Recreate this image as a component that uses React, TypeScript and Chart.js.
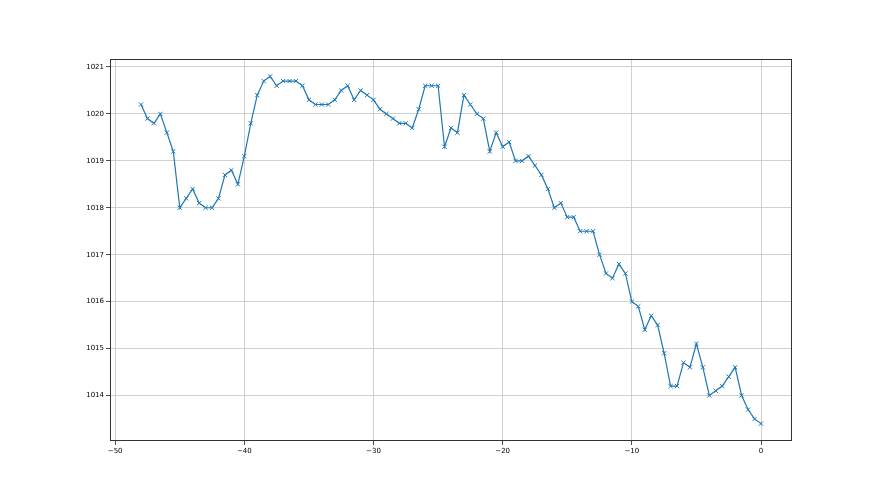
import React, { useEffect, useRef } from "react";
import { Chart, registerables } from "chart.js";

Chart.register(...registerables);

const hours: number[] = [
  -48, -47.5, -47, -46.5, -46, -45.5, -45, -44.5, -44, -43.5, -43, -42.5, -42, -41.5, -41, -40.5,
  -40, -39.5, -39, -38.5, -38, -37.5, -37, -36.5, -36, -35.5, -35, -34.5, -34, -33.5, -33, -32.5,
  -32, -31.5, -31, -30.5, -30, -29.5, -29, -28.5, -28, -27.5, -27, -26.5, -26, -25.5, -25, -24.5,
  -24, -23.5, -23, -22.5, -22, -21.5, -21, -20.5, -20, -19.5, -19, -18.5, -18, -17.5, -17, -16.5,
  -16, -15.5, -15, -14.5, -14, -13.5, -13, -12.5, -12, -11.5, -11, -10.5, -10, -9.5, -9, -8.5,
  -8, -7.5, -7, -6.5, -6, -5.5, -5, -4.5, -4, -3.5, -3, -2.5, -2, -1.5, -1, -0.5, 0,
];

const pressure: number[] = [
  1020.2, 1019.9, 1019.8, 1020.0, 1019.6, 1019.2, 1018.0, 1018.2, 1018.4, 1018.1, 1018.0, 1018.0,
  1018.2, 1018.7, 1018.8, 1018.5, 1019.1, 1019.8, 1020.4, 1020.7, 1020.8, 1020.6, 1020.7, 1020.7,
  1020.7, 1020.6, 1020.3, 1020.2, 1020.2, 1020.2, 1020.3, 1020.5, 1020.6, 1020.3, 1020.5, 1020.4,
  1020.3, 1020.1, 1020.0, 1019.9, 1019.8, 1019.8, 1019.7, 1020.1, 1020.6, 1020.6, 1020.6, 1019.3,
  1019.7, 1019.6, 1020.4, 1020.2, 1020.0, 1019.9, 1019.2, 1019.6, 1019.3, 1019.4, 1019.0, 1019.0,
  1019.1, 1018.9, 1018.7, 1018.4, 1018.0, 1018.1, 1017.8, 1017.8, 1017.5, 1017.5, 1017.5, 1017.0,
  1016.6, 1016.5, 1016.8, 1016.6, 1016.0, 1015.9, 1015.4, 1015.7, 1015.5, 1014.9, 1014.2, 1014.2,
  1014.7, 1014.6, 1015.1, 1014.6, 1014.0, 1014.1, 1014.2, 1014.4, 1014.6, 1014.0, 1013.7, 1013.5,
  1013.4,
];

const xTicks: number[] = [-50, -40, -30, -20, -10, 0];
const yTicks: number[] = [1014, 1015, 1016, 1017, 1018, 1019, 1020, 1021];

const fmt = (v: number) => (v < 0 ? "\u2212" + String(Math.abs(v)) : String(v));

const framePlugin = {
  id: "frame",
  afterDraw(chart: any) {
    const { ctx, chartArea } = chart;
    ctx.save();
    ctx.strokeStyle = "#333";
    ctx.lineWidth = 1;
    ctx.strokeRect(
      Math.round(chartArea.left) + 0.5,
      Math.round(chartArea.top) + 0.5,
      Math.round(chartArea.right - chartArea.left) - 1,
      Math.round(chartArea.bottom - chartArea.top) - 1
    );
    ctx.restore();
  },
};

export default function App() {
  const ref = useRef<HTMLCanvasElement>(null);
  useEffect(() => {
    document.body.style.margin = "0";
    const canvas = ref.current!;
    const font = { family: "DejaVu Sans", size: 7 };
    const chart = new Chart(canvas, {
      type: "line",
      data: {
        datasets: [
          {
            data: hours.map((h, i) => ({ x: h, y: pressure[i] })),
            borderColor: "#1f77b4",
            backgroundColor: "#1f77b4",
            borderWidth: 1.2,
            pointStyle: "crossRot",
            pointRadius: 3,
            pointBorderWidth: 1,
            pointBorderColor: "#1f77b4",
            tension: 0,
            fill: false,
          },
        ],
      },
      options: {
        responsive: false,
        animation: false,
        events: [],
        layout: { padding: { left: 0, top: 59, right: 88, bottom: 0 } },
        plugins: { legend: { display: false }, tooltip: { enabled: false } },
        scales: {
          x: {
            type: "linear",
            min: -50.4,
            max: 2.4,
            afterFit: (s: any) => {
              s.height = 54;
            },
            afterBuildTicks: (s: any) => {
              s.ticks = xTicks.map((v) => ({ value: v }));
            },
            grid: {
              color: "#c4c4c4",
              lineWidth: 0.8,
              tickColor: "#222",
              tickLength: 4,
              drawTicks: true,
            },
            border: { display: false },
            ticks: {
              font,
              color: "#000",
              padding: 2,
              maxRotation: 0,
              callback: (v: any) => fmt(Number(v)),
            },
          },
          y: {
            type: "linear",
            min: 1013.03,
            max: 1021.17,
            afterFit: (s: any) => {
              s.width = 110;
            },
            afterBuildTicks: (s: any) => {
              s.ticks = yTicks.map((v) => ({ value: v }));
            },
            grid: {
              color: "#c4c4c4",
              lineWidth: 0.8,
              tickColor: "#222",
              tickLength: 4,
              drawTicks: true,
            },
            border: { display: false },
            ticks: {
              font,
              color: "#000",
              padding: 2,
              callback: (v: any) => String(v),
            },
          },
        },
      },
      plugins: [framePlugin],
    });
    return () => chart.destroy();
  }, []);
  return (
    <div style={{ position: "fixed", left: 0, top: 0, width: 880, height: 495, background: "#fff" }}>
      <canvas ref={ref} width={880} height={495} />
    </div>
  );
}
